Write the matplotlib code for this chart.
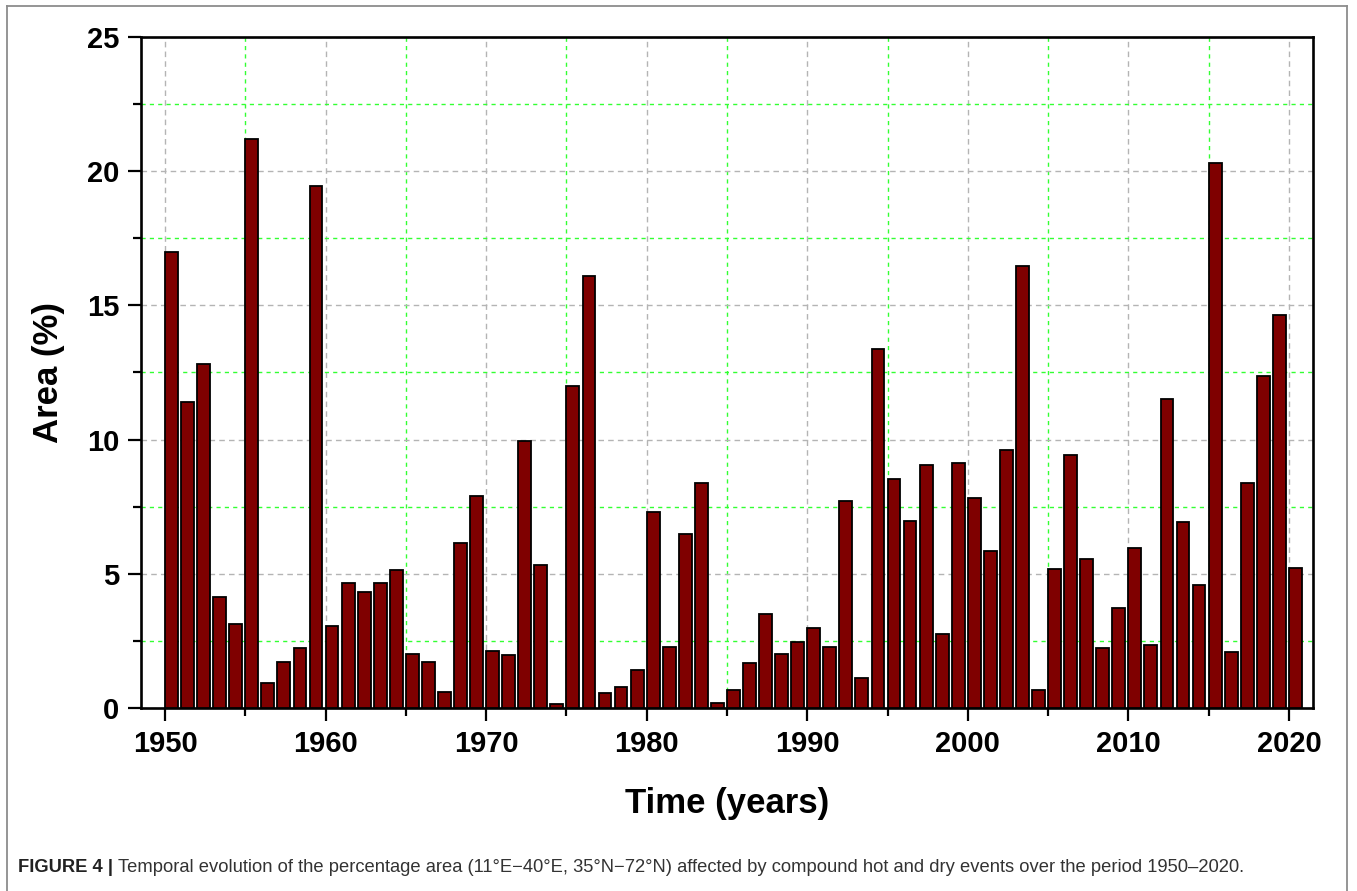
import matplotlib
matplotlib.use("Agg")
import matplotlib.pyplot as plt
from matplotlib.ticker import MultipleLocator
from matplotlib.lines import Line2D

years = list(range(1950, 2021))
area = [17.0, 11.4, 12.8, 4.13, 3.13, 21.2, 0.92, 1.7, 2.22, 19.45,
        3.07, 4.67, 4.32, 4.65, 5.15, 2.03, 1.73, 0.6, 6.13, 7.88,
        2.13, 1.98, 9.95, 5.33, 0.13, 12.0, 16.1, 0.57, 0.77, 1.43,
        7.3, 2.28, 6.5, 8.37, 0.17, 0.67, 1.66, 3.5, 2.02, 2.47,
        2.98, 2.27, 7.72, 1.13, 13.37, 8.55, 6.98, 9.05, 2.77, 9.12,
        7.83, 5.85, 9.63, 16.47, 0.67, 5.17, 9.42, 5.55, 2.23, 3.73,
        5.95, 2.33, 11.5, 6.92, 4.58, 20.3, 2.07, 8.37, 12.38, 14.63,
        5.22]

caption_bold = "FIGURE 4 | "
caption_text = ("Temporal evolution of the percentage area (11°E\u221240°E, 35°N\u221272°N) "
                "affected by compound hot and dry events over the period 1950\u20132020.")

plt.rcParams['font.family'] = ['Liberation Sans', 'DejaVu Sans']

fig = plt.figure(figsize=(13.57, 8.91), dpi=100)
ax = fig.add_axes([0.1039, 0.2054, 0.8637, 0.7531])

ax.bar(years, area, width=0.8, align='edge', color='#7f0000',
       edgecolor='black', linewidth=1.3, zorder=3)

ax.set_xlim(1948.5, 2021.5)
ax.set_ylim(0, 25)
ax.xaxis.set_major_locator(MultipleLocator(10))
ax.xaxis.set_minor_locator(MultipleLocator(5))
ax.yaxis.set_major_locator(MultipleLocator(5))
ax.yaxis.set_minor_locator(MultipleLocator(2.5))

ax.grid(which='major', color='#b4b4b4', linestyle=(0, (4, 3)), linewidth=1.0, zorder=0)
ax.grid(which='minor', color='#33ff33', linestyle=(0, (3, 3)), linewidth=1.0, zorder=0)

ax.tick_params(which='major', direction='out', length=9.5, width=1.6,
               labelsize=21, pad=6)
ax.tick_params(which='minor', direction='out', length=6, width=1.6)
for lab in ax.get_xticklabels() + ax.get_yticklabels():
    lab.set_fontweight('bold')
for s in ax.spines.values():
    s.set_linewidth(1.9)

ax.set_xlabel("Time (years)", fontsize=25, fontweight='bold', labelpad=21)
ax.set_ylabel("Area (%)", fontsize=25, fontweight='bold', labelpad=16)

# outer frame of the figure panel
frame_col = '#8c8c8c'
fig.add_artist(Line2D([7 / 1357, 7 / 1357], [0, 1 - 6 / 891], color=frame_col, lw=1.3))
fig.add_artist(Line2D([7 / 1357, 1347 / 1357], [1 - 6 / 891, 1 - 6 / 891], color=frame_col, lw=1.3))
fig.add_artist(Line2D([1347 / 1357, 1347 / 1357], [0, 1 - 6 / 891], color=frame_col, lw=1.3))

# caption: bold figure tag then regular text
t1 = fig.text(18 / 1357, 1 - 868 / 891, caption_bold, fontsize=13.2, fontweight='bold',
              color='#222222', va='center', ha='left')
fig.canvas.draw()
bb = t1.get_window_extent(renderer=fig.canvas.get_renderer())
fig.text(bb.x1 / fig.bbox.width, 1 - 868 / 891, caption_text, fontsize=13.2,
         color='#333333', va='center', ha='left')

fig.savefig("out.png", dpi=100)
